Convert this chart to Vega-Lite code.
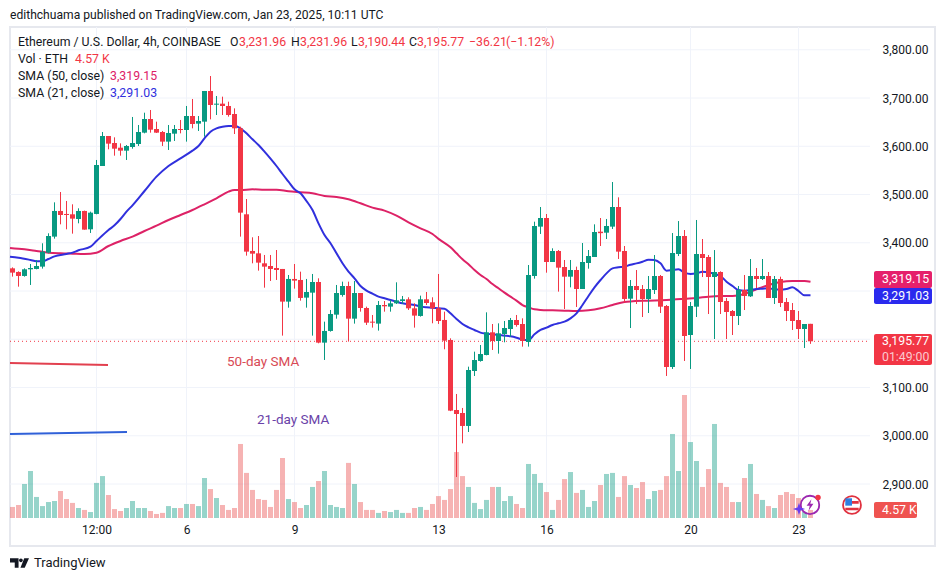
{
"$schema":"https://vega.github.io/schema/vega-lite/v6.json",
"autosize":{"type":"none"},
"width":925,"height":519,
"padding":{"left":10,"top":27,"right":10,"bottom":35},
"background":"#ffffff",
"config":{"view":{"stroke":"#e6e8ee","strokeWidth":2},"font":"Roboto"},
"datasets":{
"candles":[
{"t":"2025-01-01T04:00Z","o":3347.0,"h":3349.0,"l":3329.8,"c":3338.1,"v":6.3},
{"t":"2025-01-01T08:00Z","o":3339.5,"h":3340.8,"l":3309.0,"c":3331.2,"v":7.4},
{"t":"2025-01-01T12:00Z","o":3331.2,"h":3347.0,"l":3329.8,"c":3345.0,"v":19.4},
{"t":"2025-01-01T16:00Z","o":3345.0,"h":3356.0,"l":3312.5,"c":3347.7,"v":26.8},
{"t":"2025-01-01T20:00Z","o":3345.7,"h":3364.3,"l":3345.0,"c":3351.9,"v":12},
{"t":"2025-01-02T00:00Z","o":3350.5,"h":3398.9,"l":3346.4,"c":3381.6,"v":6.8},
{"t":"2025-01-02T04:00Z","o":3379.5,"h":3419.6,"l":3378.1,"c":3414.0,"v":9.1},
{"t":"2025-01-02T08:00Z","o":3412.7,"h":3483.8,"l":3408.5,"c":3465.9,"v":9.7},
{"t":"2025-01-02T12:00Z","o":3465.9,"h":3505.2,"l":3438.2,"c":3457.6,"v":15.4},
{"t":"2025-01-02T16:00Z","o":3459.7,"h":3486.6,"l":3427.9,"c":3457.6,"v":10.8},
{"t":"2025-01-02T20:00Z","o":3459.0,"h":3479.7,"l":3418.9,"c":3450.0,"v":8.6},
{"t":"2025-01-03T00:00Z","o":3449.3,"h":3471.4,"l":3440.3,"c":3465.9,"v":5.7},
{"t":"2025-01-03T04:00Z","o":3465.9,"h":3466.6,"l":3427.2,"c":3427.2,"v":4.6},
{"t":"2025-01-03T08:00Z","o":3427.9,"h":3464.5,"l":3420.3,"c":3462.4,"v":3.4},
{"t":"2025-01-03T12:00Z","o":3459.7,"h":3571.6,"l":3459.0,"c":3561.2,"v":20},
{"t":"2025-01-03T16:00Z","o":3559.1,"h":3629.6,"l":3559.1,"c":3621.3,"v":23.9},
{"t":"2025-01-03T20:00Z","o":3621.3,"h":3621.3,"l":3593.7,"c":3605.4,"v":13.1},
{"t":"2025-01-04T00:00Z","o":3606.8,"h":3618.5,"l":3580.5,"c":3595.0,"v":5.1},
{"t":"2025-01-04T04:00Z","o":3597.1,"h":3606.0,"l":3580.5,"c":3590.9,"v":4},
{"t":"2025-01-04T08:00Z","o":3590.9,"h":3602.6,"l":3571.6,"c":3600.6,"v":5.7},
{"t":"2025-01-04T12:00Z","o":3598.5,"h":3660.7,"l":3595.0,"c":3606.8,"v":9.7},
{"t":"2025-01-04T16:00Z","o":3604.7,"h":3644.1,"l":3600.6,"c":3629.6,"v":5.7},
{"t":"2025-01-04T20:00Z","o":3628.2,"h":3669.6,"l":3626.8,"c":3656.5,"v":5.7},
{"t":"2025-01-05T00:00Z","o":3656.5,"h":3675.2,"l":3628.2,"c":3634.4,"v":4},
{"t":"2025-01-05T04:00Z","o":3635.8,"h":3651.0,"l":3627.5,"c":3628.2,"v":2.3},
{"t":"2025-01-05T08:00Z","o":3629.6,"h":3631.7,"l":3600.6,"c":3609.6,"v":2.9},
{"t":"2025-01-05T12:00Z","o":3609.6,"h":3644.1,"l":3592.3,"c":3627.5,"v":6.8},
{"t":"2025-01-05T16:00Z","o":3626.1,"h":3644.1,"l":3611.0,"c":3635.8,"v":5.7},
{"t":"2025-01-05T20:00Z","o":3635.8,"h":3654.5,"l":3626.8,"c":3633.7,"v":5.7},
{"t":"2025-01-06T00:00Z","o":3633.7,"h":3683.5,"l":3609.6,"c":3662.7,"v":8},
{"t":"2025-01-06T04:00Z","o":3662.7,"h":3698.0,"l":3637.2,"c":3646.2,"v":8},
{"t":"2025-01-06T08:00Z","o":3646.9,"h":3662.7,"l":3631.7,"c":3652.4,"v":6.8},
{"t":"2025-01-06T12:00Z","o":3651.0,"h":3714.6,"l":3619.9,"c":3714.6,"v":22.8},
{"t":"2025-01-06T16:00Z","o":3714.6,"h":3745.6,"l":3655.8,"c":3685.5,"v":16.5},
{"t":"2025-01-06T20:00Z","o":3686.2,"h":3704.2,"l":3664.8,"c":3688.3,"v":11.4},
{"t":"2025-01-07T00:00Z","o":3688.3,"h":3702.8,"l":3664.8,"c":3683.5,"v":7.4},
{"t":"2025-01-07T04:00Z","o":3683.5,"h":3692.4,"l":3661.4,"c":3664.8,"v":4.6},
{"t":"2025-01-07T08:00Z","o":3666.9,"h":3678.6,"l":3625.4,"c":3637.2,"v":5.7},
{"t":"2025-01-07T12:00Z","o":3637.2,"h":3640.6,"l":3412.7,"c":3462.4,"v":42.2},
{"t":"2025-01-07T16:00Z","o":3459.0,"h":3490.7,"l":3373.3,"c":3381.6,"v":25.7},
{"t":"2025-01-07T20:00Z","o":3383.0,"h":3411.3,"l":3357.4,"c":3377.4,"v":16},
{"t":"2025-01-08T00:00Z","o":3378.1,"h":3414.0,"l":3342.2,"c":3358.8,"v":10.8},
{"t":"2025-01-08T04:00Z","o":3357.4,"h":3374.7,"l":3306.9,"c":3350.5,"v":10.3},
{"t":"2025-01-08T08:00Z","o":3351.9,"h":3374.7,"l":3320.8,"c":3345.7,"v":6.3},
{"t":"2025-01-08T12:00Z","o":3347.7,"h":3385.0,"l":3322.9,"c":3343.6,"v":16},
{"t":"2025-01-08T16:00Z","o":3345.7,"h":3345.7,"l":3207.5,"c":3278.0,"v":34.2},
{"t":"2025-01-08T20:00Z","o":3278.0,"h":3333.2,"l":3265.5,"c":3325.0,"v":10.8},
{"t":"2025-01-09T00:00Z","o":3325.0,"h":3356.0,"l":3304.9,"c":3321.5,"v":9.1},
{"t":"2025-01-09T04:00Z","o":3322.9,"h":3340.1,"l":3280.0,"c":3285.6,"v":5.7},
{"t":"2025-01-09T08:00Z","o":3286.3,"h":3325.0,"l":3265.5,"c":3298.0,"v":7.4},
{"t":"2025-01-09T12:00Z","o":3296.6,"h":3335.3,"l":3207.5,"c":3318.7,"v":17.7},
{"t":"2025-01-09T16:00Z","o":3318.7,"h":3326.3,"l":3191.6,"c":3193.0,"v":21.1},
{"t":"2025-01-09T20:00Z","o":3193.0,"h":3236.5,"l":3157.1,"c":3217.2,"v":26.8},
{"t":"2025-01-10T00:00Z","o":3217.2,"h":3260.7,"l":3215.8,"c":3252.4,"v":7.4},
{"t":"2025-01-10T04:00Z","o":3251.0,"h":3312.5,"l":3242.7,"c":3295.9,"v":6.3},
{"t":"2025-01-10T08:00Z","o":3291.8,"h":3319.4,"l":3288.3,"c":3310.4,"v":5.7},
{"t":"2025-01-10T12:00Z","o":3310.4,"h":3319.4,"l":3195.1,"c":3242.7,"v":31.4},
{"t":"2025-01-10T16:00Z","o":3242.7,"h":3320.8,"l":3232.4,"c":3295.9,"v":19.4},
{"t":"2025-01-10T20:00Z","o":3295.9,"h":3295.9,"l":3257.2,"c":3264.8,"v":9.1},
{"t":"2025-01-11T00:00Z","o":3264.8,"h":3267.6,"l":3229.6,"c":3234.4,"v":4.6},
{"t":"2025-01-11T04:00Z","o":3236.5,"h":3250.3,"l":3224.1,"c":3234.4,"v":4.6},
{"t":"2025-01-11T08:00Z","o":3232.4,"h":3279.3,"l":3217.9,"c":3271.0,"v":2.9},
{"t":"2025-01-11T12:00Z","o":3271.0,"h":3279.3,"l":3257.2,"c":3268.3,"v":4},
{"t":"2025-01-11T16:00Z","o":3267.6,"h":3281.4,"l":3257.2,"c":3274.5,"v":3.4},
{"t":"2025-01-11T20:00Z","o":3274.5,"h":3318.0,"l":3273.1,"c":3280.7,"v":4.6},
{"t":"2025-01-12T00:00Z","o":3279.3,"h":3289.7,"l":3273.1,"c":3282.8,"v":2.9},
{"t":"2025-01-12T04:00Z","o":3282.8,"h":3287.0,"l":3260.7,"c":3264.1,"v":2.9},
{"t":"2025-01-12T08:00Z","o":3264.1,"h":3274.5,"l":3224.1,"c":3249.0,"v":5.7},
{"t":"2025-01-12T12:00Z","o":3248.3,"h":3290.4,"l":3246.9,"c":3282.8,"v":6.3},
{"t":"2025-01-12T16:00Z","o":3282.8,"h":3298.0,"l":3271.0,"c":3275.2,"v":4.6},
{"t":"2025-01-12T20:00Z","o":3276.6,"h":3287.0,"l":3233.1,"c":3264.1,"v":8},
{"t":"2025-01-13T00:00Z","o":3264.1,"h":3335.3,"l":3231.7,"c":3237.9,"v":12.5},
{"t":"2025-01-13T04:00Z","o":3240.0,"h":3257.2,"l":3179.2,"c":3197.1,"v":10.3},
{"t":"2025-01-13T08:00Z","o":3198.5,"h":3201.9,"l":3051.0,"c":3052.0,"v":16.5},
{"t":"2025-01-13T12:00Z","o":3053.4,"h":3086.6,"l":2914.5,"c":3045.1,"v":37.6},
{"t":"2025-01-13T16:00Z","o":3047.2,"h":3057.6,"l":2984.3,"c":3020.3,"v":23.9},
{"t":"2025-01-13T20:00Z","o":3020.3,"h":3143.2,"l":3007.8,"c":3136.3,"v":17.7},
{"t":"2025-01-14T00:00Z","o":3134.2,"h":3174.3,"l":3123.9,"c":3157.0,"v":8.6},
{"t":"2025-01-14T04:00Z","o":3155.0,"h":3188.1,"l":3153.6,"c":3169.5,"v":5.1},
{"t":"2025-01-14T08:00Z","o":3167.4,"h":3255.8,"l":3166.7,"c":3214.4,"v":10.3},
{"t":"2025-01-14T12:00Z","o":3214.4,"h":3231.6,"l":3177.8,"c":3196.4,"v":17.7},
{"t":"2025-01-14T16:00Z","o":3196.4,"h":3233.0,"l":3170.2,"c":3212.3,"v":17.7},
{"t":"2025-01-14T20:00Z","o":3210.9,"h":3237.9,"l":3193.7,"c":3223.4,"v":9.7},
{"t":"2025-01-15T00:00Z","o":3221.3,"h":3244.1,"l":3205.4,"c":3239.9,"v":12.5},
{"t":"2025-01-15T04:00Z","o":3239.9,"h":3250.3,"l":3226.1,"c":3229.6,"v":8},
{"t":"2025-01-15T08:00Z","o":3231.6,"h":3243.4,"l":3184.7,"c":3196.4,"v":5.7},
{"t":"2025-01-15T12:00Z","o":3194.3,"h":3353.9,"l":3184.7,"c":3333.2,"v":30.8},
{"t":"2025-01-15T16:00Z","o":3331.1,"h":3443.7,"l":3325.6,"c":3434.7,"v":25.1},
{"t":"2025-01-15T20:00Z","o":3433.4,"h":3474.1,"l":3418.2,"c":3451.3,"v":20},
{"t":"2025-01-16T00:00Z","o":3451.3,"h":3459.6,"l":3338.0,"c":3360.1,"v":14.8},
{"t":"2025-01-16T04:00Z","o":3360.1,"h":3388.5,"l":3360.1,"c":3382.9,"v":4.6},
{"t":"2025-01-16T08:00Z","o":3382.9,"h":3385.0,"l":3298.7,"c":3348.4,"v":10.3},
{"t":"2025-01-16T12:00Z","o":3349.8,"h":3364.3,"l":3262.7,"c":3329.7,"v":22.2},
{"t":"2025-01-16T16:00Z","o":3329.7,"h":3364.3,"l":3307.6,"c":3343.6,"v":26.2},
{"t":"2025-01-16T20:00Z","o":3343.6,"h":3350.5,"l":3266.9,"c":3304.2,"v":14.3},
{"t":"2025-01-17T00:00Z","o":3304.2,"h":3399.5,"l":3304.2,"c":3360.1,"v":16},
{"t":"2025-01-17T04:00Z","o":3358.0,"h":3385.0,"l":3346.3,"c":3372.6,"v":6.3},
{"t":"2025-01-17T08:00Z","o":3370.5,"h":3438.2,"l":3370.5,"c":3422.3,"v":9.7},
{"t":"2025-01-17T12:00Z","o":3423.0,"h":3451.3,"l":3393.3,"c":3419.9,"v":18.8},
{"t":"2025-01-17T16:00Z","o":3420.9,"h":3449.3,"l":3407.8,"c":3434.7,"v":25.1},
{"t":"2025-01-17T20:00Z","o":3433.4,"h":3525.9,"l":3428.5,"c":3474.1,"v":25.7},
{"t":"2025-01-18T00:00Z","o":3474.1,"h":3494.2,"l":3366.4,"c":3381.6,"v":12},
{"t":"2025-01-18T04:00Z","o":3382.9,"h":3393.3,"l":3276.6,"c":3283.5,"v":23.9},
{"t":"2025-01-18T08:00Z","o":3284.1,"h":3322.8,"l":3223.3,"c":3310.4,"v":18.8},
{"t":"2025-01-18T12:00Z","o":3310.4,"h":3343.5,"l":3273.1,"c":3302.1,"v":17.1},
{"t":"2025-01-18T16:00Z","o":3304.2,"h":3312.4,"l":3246.1,"c":3283.4,"v":20.5},
{"t":"2025-01-18T20:00Z","o":3283.4,"h":3331.1,"l":3254.4,"c":3304.2,"v":10.8},
{"t":"2025-01-19T00:00Z","o":3302.1,"h":3374.6,"l":3293.8,"c":3331.1,"v":15.4},
{"t":"2025-01-19T04:00Z","o":3331.1,"h":3333.2,"l":3254.4,"c":3267.5,"v":16},
{"t":"2025-01-19T08:00Z","o":3268.9,"h":3271.0,"l":3123.9,"c":3142.5,"v":23.9},
{"t":"2025-01-19T12:00Z","o":3142.5,"h":3420.2,"l":3138.4,"c":3378.8,"v":47.9},
{"t":"2025-01-19T16:00Z","o":3376.7,"h":3445.0,"l":3372.5,"c":3414.0,"v":26.8},
{"t":"2025-01-19T20:00Z","o":3414.0,"h":3426.4,"l":3155.0,"c":3206.8,"v":70.1},
{"t":"2025-01-20T00:00Z","o":3208.8,"h":3277.2,"l":3138.4,"c":3268.9,"v":43.3},
{"t":"2025-01-20T04:00Z","o":3267.5,"h":3447.2,"l":3246.1,"c":3376.7,"v":32.5},
{"t":"2025-01-20T08:00Z","o":3376.7,"h":3407.8,"l":3329.0,"c":3368.4,"v":17.7},
{"t":"2025-01-20T12:00Z","o":3370.5,"h":3374.6,"l":3252.3,"c":3329.0,"v":27.9},
{"t":"2025-01-20T16:00Z","o":3329.0,"h":3384.9,"l":3200.5,"c":3339.4,"v":53.6},
{"t":"2025-01-20T20:00Z","o":3339.4,"h":3340.8,"l":3252.3,"c":3277.2,"v":20},
{"t":"2025-01-21T00:00Z","o":3279.3,"h":3285.5,"l":3200.5,"c":3256.5,"v":17.7},
{"t":"2025-01-21T04:00Z","o":3258.6,"h":3260.6,"l":3208.8,"c":3248.2,"v":9.1},
{"t":"2025-01-21T08:00Z","o":3248.2,"h":3310.4,"l":3229.5,"c":3302.1,"v":9.1},
{"t":"2025-01-21T12:00Z","o":3302.1,"h":3333.2,"l":3260.6,"c":3289.6,"v":22.8},
{"t":"2025-01-21T16:00Z","o":3289.0,"h":3366.3,"l":3287.6,"c":3331.1,"v":30.8},
{"t":"2025-01-21T20:00Z","o":3331.1,"h":3347.7,"l":3306.2,"c":3324.9,"v":13.7},
{"t":"2025-01-22T00:00Z","o":3324.9,"h":3366.3,"l":3322.8,"c":3331.1,"v":10.3},
{"t":"2025-01-22T04:00Z","o":3331.1,"h":3339.4,"l":3285.5,"c":3285.5,"v":6.8},
{"t":"2025-01-22T08:00Z","o":3285.5,"h":3331.1,"l":3273.1,"c":3324.9,"v":5.7},
{"t":"2025-01-22T12:00Z","o":3324.9,"h":3329.7,"l":3266.8,"c":3275.1,"v":13.1},
{"t":"2025-01-22T16:00Z","o":3277.2,"h":3285.5,"l":3237.8,"c":3258.6,"v":14.8},
{"t":"2025-01-22T20:00Z","o":3260.6,"h":3275.1,"l":3219.2,"c":3237.8,"v":13.7},
{"t":"2025-01-23T00:00Z","o":3239.9,"h":3258.6,"l":3200.5,"c":3221.3,"v":11.4},
{"t":"2025-01-23T04:00Z","o":3221.3,"h":3231.6,"l":3181.9,"c":3231.6,"v":3.4},
{"t":"2025-01-23T08:00Z","o":3231.96,"h":3231.96,"l":3190.44,"c":3195.77,"v":4.57}
],
"sma21":[
{"t":"2025-01-01T02:20Z","v":3371.2},{"t":"2025-01-01T08:00Z","v":3369.1},{"t":"2025-01-01T16:00Z","v":3364.3},{"t":"2025-01-01T20:00Z","v":3361.6},{"t":"2025-01-02T00:00Z","v":3361.6},{"t":"2025-01-02T04:00Z","v":3366.4},{"t":"2025-01-02T08:00Z","v":3371.9},{"t":"2025-01-02T16:00Z","v":3376.8},{"t":"2025-01-02T20:00Z","v":3379.5},{"t":"2025-01-03T00:00Z","v":3384.4},{"t":"2025-01-03T08:00Z","v":3391.9},{"t":"2025-01-03T12:00Z","v":3403.7},{"t":"2025-01-03T20:00Z","v":3426.5},{"t":"2025-01-04T00:00Z","v":3436.2},{"t":"2025-01-04T04:00Z","v":3449.3},{"t":"2025-01-04T08:00Z","v":3464.5},{"t":"2025-01-04T12:00Z","v":3477.6},{"t":"2025-01-04T20:00Z","v":3507.3},{"t":"2025-01-05T04:00Z","v":3537},{"t":"2025-01-05T12:00Z","v":3559.1},{"t":"2025-01-05T20:00Z","v":3575},{"t":"2025-01-06T04:00Z","v":3590.9},{"t":"2025-01-06T08:00Z","v":3600.6},{"t":"2025-01-06T12:00Z","v":3616.5},{"t":"2025-01-06T16:00Z","v":3630.3},{"t":"2025-01-06T20:00Z","v":3637.2},{"t":"2025-01-07T00:00Z","v":3640.6},{"t":"2025-01-07T04:00Z","v":3642},{"t":"2025-01-07T08:00Z","v":3642},{"t":"2025-01-07T12:00Z","v":3637.2},{"t":"2025-01-07T16:00Z","v":3626.8},{"t":"2025-01-07T20:00Z","v":3614.4},{"t":"2025-01-08T00:00Z","v":3602.6},{"t":"2025-01-08T04:00Z","v":3588.8},{"t":"2025-01-08T08:00Z","v":3574.3},{"t":"2025-01-08T12:00Z","v":3559.1},{"t":"2025-01-08T16:00Z","v":3542.5},{"t":"2025-01-08T20:00Z","v":3526.7},{"t":"2025-01-09T00:00Z","v":3510.8},{"t":"2025-01-09T04:00Z","v":3502.5},{"t":"2025-01-09T08:00Z","v":3486.6},{"t":"2025-01-09T12:00Z","v":3467.9},{"t":"2025-01-09T16:00Z","v":3440.3},{"t":"2025-01-09T20:00Z","v":3416.1},{"t":"2025-01-10T00:00Z","v":3398.9},{"t":"2025-01-10T04:00Z","v":3378.1},{"t":"2025-01-10T08:00Z","v":3357.4},{"t":"2025-01-10T12:00Z","v":3340.1},{"t":"2025-01-10T16:00Z","v":3326.3},{"t":"2025-01-10T20:00Z","v":3310.4},{"t":"2025-01-11T00:00Z","v":3300.8},{"t":"2025-01-11T04:00Z","v":3294.5},{"t":"2025-01-11T08:00Z","v":3288.3},{"t":"2025-01-11T12:00Z","v":3284.9},{"t":"2025-01-11T16:00Z","v":3281.4},{"t":"2025-01-11T20:00Z","v":3277.9},{"t":"2025-01-12T00:00Z","v":3274.5},{"t":"2025-01-12T04:00Z","v":3272.4},{"t":"2025-01-12T08:00Z","v":3271},{"t":"2025-01-12T12:00Z","v":3267.6},{"t":"2025-01-12T16:00Z","v":3266.2},{"t":"2025-01-12T20:00Z","v":3265.5},{"t":"2025-01-13T00:00Z","v":3264.1},{"t":"2025-01-13T04:00Z","v":3263.4},{"t":"2025-01-13T08:00Z","v":3253.8},{"t":"2025-01-13T12:00Z","v":3242},{"t":"2025-01-13T16:00Z","v":3231.6},{"t":"2025-01-13T20:00Z","v":3224.7},{"t":"2025-01-14T00:00Z","v":3219.2},{"t":"2025-01-14T04:00Z","v":3213.7},{"t":"2025-01-14T08:00Z","v":3211.6},{"t":"2025-01-14T12:00Z","v":3210.2},{"t":"2025-01-14T16:00Z","v":3208.8},{"t":"2025-01-14T20:00Z","v":3207.5},{"t":"2025-01-15T00:00Z","v":3206.1},{"t":"2025-01-15T04:00Z","v":3203.3},{"t":"2025-01-15T08:00Z","v":3199.2},{"t":"2025-01-15T12:00Z","v":3198.5},{"t":"2025-01-15T16:00Z","v":3210.2},{"t":"2025-01-15T20:00Z","v":3219.2},{"t":"2025-01-16T00:00Z","v":3224},{"t":"2025-01-16T04:00Z","v":3229.6},{"t":"2025-01-16T08:00Z","v":3233},{"t":"2025-01-16T12:00Z","v":3236.5},{"t":"2025-01-16T16:00Z","v":3243.4},{"t":"2025-01-16T20:00Z","v":3253.8},{"t":"2025-01-17T00:00Z","v":3271},{"t":"2025-01-17T04:00Z","v":3289.7},{"t":"2025-01-17T08:00Z","v":3307.6},{"t":"2025-01-17T12:00Z","v":3322.8},{"t":"2025-01-17T16:00Z","v":3336.6},{"t":"2025-01-17T20:00Z","v":3347},{"t":"2025-01-18T00:00Z","v":3349.1},{"t":"2025-01-18T04:00Z","v":3350.5},{"t":"2025-01-18T08:00Z","v":3354.6},{"t":"2025-01-18T12:00Z","v":3357.3},{"t":"2025-01-18T16:00Z","v":3360.8},{"t":"2025-01-18T20:00Z","v":3365},{"t":"2025-01-19T00:00Z","v":3364.3},{"t":"2025-01-19T04:00Z","v":3357.3},{"t":"2025-01-19T08:00Z","v":3342.2},{"t":"2025-01-19T12:00Z","v":3343.5},{"t":"2025-01-19T16:00Z","v":3344.9},{"t":"2025-01-19T20:00Z","v":3338},{"t":"2025-01-20T00:00Z","v":3335.2},{"t":"2025-01-20T04:00Z","v":3336.6},{"t":"2025-01-20T08:00Z","v":3340},{"t":"2025-01-20T12:00Z","v":3338.7},{"t":"2025-01-20T16:00Z","v":3335.2},{"t":"2025-01-20T20:00Z","v":3331.1},{"t":"2025-01-21T00:00Z","v":3319.4},{"t":"2025-01-21T04:00Z","v":3310.4},{"t":"2025-01-21T08:00Z","v":3302.1},{"t":"2025-01-21T12:00Z","v":3300.7},{"t":"2025-01-21T16:00Z","v":3302.1},{"t":"2025-01-21T20:00Z","v":3304.2},{"t":"2025-01-22T00:00Z","v":3304.8},{"t":"2025-01-22T04:00Z","v":3305.5},{"t":"2025-01-22T08:00Z","v":3303.5},{"t":"2025-01-22T12:00Z","v":3302.8},{"t":"2025-01-22T16:00Z","v":3304.2},{"t":"2025-01-22T20:00Z","v":3307.6},{"t":"2025-01-23T00:00Z","v":3300},{"t":"2025-01-23T04:00Z","v":3291},{"t":"2025-01-23T08:00Z","v":3291.03}
],
"sma50":[
{"t":"2025-01-01T02:20Z","v":3389.2},{"t":"2025-01-01T12:00Z","v":3386.4},{"t":"2025-01-01T20:00Z","v":3383},{"t":"2025-01-02T04:00Z","v":3379.5},{"t":"2025-01-02T12:00Z","v":3378.1},{"t":"2025-01-02T20:00Z","v":3377.4},{"t":"2025-01-03T04:00Z","v":3376.8},{"t":"2025-01-03T12:00Z","v":3379.5},{"t":"2025-01-03T20:00Z","v":3393.3},{"t":"2025-01-04T04:00Z","v":3403.7},{"t":"2025-01-04T12:00Z","v":3412.7},{"t":"2025-01-04T20:00Z","v":3424.4},{"t":"2025-01-05T04:00Z","v":3435.5},{"t":"2025-01-05T12:00Z","v":3447.2},{"t":"2025-01-05T20:00Z","v":3457.6},{"t":"2025-01-06T04:00Z","v":3467.9},{"t":"2025-01-06T12:00Z","v":3479.7},{"t":"2025-01-06T20:00Z","v":3492.1},{"t":"2025-01-07T04:00Z","v":3505.9},{"t":"2025-01-07T08:00Z","v":3509.4},{"t":"2025-01-07T12:00Z","v":3509.4},{"t":"2025-01-07T20:00Z","v":3510.8},{"t":"2025-01-08T04:00Z","v":3510.1},{"t":"2025-01-08T12:00Z","v":3510.1},{"t":"2025-01-08T20:00Z","v":3506.6},{"t":"2025-01-09T04:00Z","v":3504.5},{"t":"2025-01-09T12:00Z","v":3502.5},{"t":"2025-01-09T20:00Z","v":3497},{"t":"2025-01-10T04:00Z","v":3494.9},{"t":"2025-01-10T12:00Z","v":3490},{"t":"2025-01-10T20:00Z","v":3481.8},{"t":"2025-01-11T04:00Z","v":3472.8},{"t":"2025-01-11T12:00Z","v":3466.6},{"t":"2025-01-11T20:00Z","v":3456.2},{"t":"2025-01-12T04:00Z","v":3442.4},{"t":"2025-01-12T12:00Z","v":3429.9},{"t":"2025-01-12T20:00Z","v":3418.2},{"t":"2025-01-13T00:00Z","v":3408},{"t":"2025-01-13T08:00Z","v":3390.5},{"t":"2025-01-13T12:00Z","v":3378.1},{"t":"2025-01-13T16:00Z","v":3365.7},{"t":"2025-01-13T20:00Z","v":3355.3},{"t":"2025-01-14T00:00Z","v":3343.6},{"t":"2025-01-14T04:00Z","v":3333.2},{"t":"2025-01-14T08:00Z","v":3324.9},{"t":"2025-01-14T12:00Z","v":3314.5},{"t":"2025-01-14T16:00Z","v":3305.6},{"t":"2025-01-14T20:00Z","v":3296.6},{"t":"2025-01-15T00:00Z","v":3288.3},{"t":"2025-01-15T04:00Z","v":3280},{"t":"2025-01-15T08:00Z","v":3271},{"t":"2025-01-15T12:00Z","v":3266.2},{"t":"2025-01-15T16:00Z","v":3262},{"t":"2025-01-15T20:00Z","v":3260.7},{"t":"2025-01-16T04:00Z","v":3260},{"t":"2025-01-16T12:00Z","v":3259.3},{"t":"2025-01-16T20:00Z","v":3258.6},{"t":"2025-01-17T04:00Z","v":3260},{"t":"2025-01-17T12:00Z","v":3264.1},{"t":"2025-01-17T20:00Z","v":3271},{"t":"2025-01-18T04:00Z","v":3277.2},{"t":"2025-01-18T08:00Z","v":3278.5},{"t":"2025-01-18T20:00Z","v":3280},{"t":"2025-01-19T08:00Z","v":3281.4},{"t":"2025-01-19T20:00Z","v":3284.1},{"t":"2025-01-20T04:00Z","v":3285.5},{"t":"2025-01-20T12:00Z","v":3288.3},{"t":"2025-01-20T20:00Z","v":3289.6},{"t":"2025-01-21T04:00Z","v":3289.6},{"t":"2025-01-21T12:00Z","v":3293.8},{"t":"2025-01-21T20:00Z","v":3303.5},{"t":"2025-01-22T04:00Z","v":3312.4},{"t":"2025-01-22T12:00Z","v":3318.7},{"t":"2025-01-22T20:00Z","v":3320.7},{"t":"2025-01-23T04:00Z","v":3320.7},{"t":"2025-01-23T08:00Z","v":3319.15}
],
"hgrid":[
{"t":"2025-01-01T02:20Z","t2":"2025-01-24T23:40Z","p":2900},{"t":"2025-01-01T02:20Z","t2":"2025-01-24T23:40Z","p":3000},{"t":"2025-01-01T02:20Z","t2":"2025-01-24T23:40Z","p":3100},{"t":"2025-01-01T02:20Z","t2":"2025-01-24T23:40Z","p":3200},{"t":"2025-01-01T02:20Z","t2":"2025-01-24T23:40Z","p":3300},{"t":"2025-01-01T02:20Z","t2":"2025-01-24T23:40Z","p":3400},{"t":"2025-01-01T02:20Z","t2":"2025-01-24T23:40Z","p":3500},{"t":"2025-01-01T02:20Z","t2":"2025-01-24T23:40Z","p":3600},{"t":"2025-01-01T02:20Z","t2":"2025-01-24T23:40Z","p":3700},{"t":"2025-01-01T02:20Z","t2":"2025-01-24T23:40Z","p":3800}
],
"vgrid":[
{"t":"2025-01-03T12:00Z","p":3847.2,"p2":2829.5},{"t":"2025-01-06T00:00Z","p":3847.2,"p2":2829.5},{"t":"2025-01-09T00:00Z","p":3847.2,"p2":2829.5},{"t":"2025-01-13T00:00Z","p":3847.2,"p2":2829.5},{"t":"2025-01-16T00:00Z","p":3847.2,"p2":2829.5},{"t":"2025-01-20T00:00Z","p":3847.2,"p2":2829.5},{"t":"2025-01-23T00:00Z","p":3847.2,"p2":2829.5}
],
"tags":[
{"t":"2025-01-25T02:20Z","t2":"2025-01-26T17:00Z","p":3341.5,"p2":3306.2,"k":"ma50"},
{"t":"2025-01-25T02:20Z","t2":"2025-01-26T17:00Z","p":3306.2,"p2":3273.0,"k":"ma21"},
{"t":"2025-01-25T02:20Z","t2":"2025-01-26T17:00Z","p":3210.9,"p2":3146.6,"k":"last"},
{"t":"2025-01-25T02:20Z","t2":"2025-01-26T07:00Z","p":2862.7,"p2":2829.5,"k":"vol"}
],
"texts":[
{"t":"2025-01-01T07:40Z","p":3816.1,"k":"ink","s":"Ethereum / U.S. Dollar, 4h, COINBASE"},
{"t":"2025-01-07T05:00Z","p":3816.1,"k":"ink","s":"O"},
{"t":"2025-01-07T11:00Z","p":3816.1,"k":"down","s":"3,231.96"},
{"t":"2025-01-08T21:40Z","p":3816.1,"k":"ink","s":"H"},
{"t":"2025-01-09T03:40Z","p":3816.1,"k":"down","s":"3,231.96"},
{"t":"2025-01-10T13:40Z","p":3816.1,"k":"ink","s":"L"},
{"t":"2025-01-10T18:20Z","p":3816.1,"k":"down","s":"3,190.44"},
{"t":"2025-01-12T04:20Z","p":3816.1,"k":"ink","s":"C"},
{"t":"2025-01-12T09:40Z","p":3816.1,"k":"down","s":"3,195.77"},
{"t":"2025-01-13T20:20Z","p":3816.1,"k":"down","s":"−36.21"},
{"t":"2025-01-14T21:00Z","p":3816.1,"k":"down","s":"(−1.12%)"},
{"t":"2025-01-01T07:40Z","p":3780.8,"k":"ink","s":"Vol · ETH"},
{"t":"2025-01-02T21:40Z","p":3780.8,"k":"down","s":"4.57 K"},
{"t":"2025-01-01T07:40Z","p":3745.6,"k":"ink","s":"SMA (50, close)"},
{"t":"2025-01-03T21:00Z","p":3745.6,"k":"ma50","s":"3,319.15"},
{"t":"2025-01-01T07:40Z","p":3710.4,"k":"ink","s":"SMA (21, close)"},
{"t":"2025-01-03T21:00Z","p":3710.4,"k":"ma21","s":"3,291.03"},
{"t":"2025-01-25T07:40Z","p":3323.9,"k":"white","s":"3,319.15"},
{"t":"2025-01-25T07:40Z","p":3289.6,"k":"white","s":"3,291.03"},
{"t":"2025-01-25T07:40Z","p":3196.4,"k":"white","s":"3,195.77"},
{"t":"2025-01-25T07:40Z","p":3163.2,"k":"soft","s":"01:49:00"},
{"t":"2025-01-25T07:40Z","p":2846.1,"k":"white","s":"4.57 K"}
],
"topline":[{"t":"2025-01-01T02:20Z","p":3872,"s":"edithchuama published on TradingView.com, Jan 23, 2025, 10:11 UTC"}],
"notes":[
{"t":"2025-01-07T03:00Z","p":3152.8,"k":"note50","s":"50-day SMA"},
{"t":"2025-01-07T23:00Z","p":3032.6,"k":"note21","s":"21-day SMA"}
],
"brand":[{"t":"2025-01-01T18:20Z","p":2736.3,"s":"TradingView"}],
"noteLines":[
{"t":"2025-01-01T02:20Z","p":3150.8,"k":"a"},{"t":"2025-01-03T19:40Z","p":3146.6,"k":"a"},
{"t":"2025-01-01T02:20Z","p":3003.6,"k":"b"},{"t":"2025-01-04T08:20Z","p":3007.8,"k":"b"}
],
"lastLine":[{"t":"2025-01-01T02:20Z","t2":"2025-01-24T23:40Z","p":3195.77}],
"rings":[
{"t":"2025-01-23T07:40Z","p":2856.5,"k":"bolt"},
{"t":"2025-01-24T11:40Z","p":2856.5,"k":"flag"}
],
"glyphs":[
{"t":"2025-01-23T07:40Z","p":2856.5,"k":"bolt"},
{"t":"2025-01-23T00:20Z","p":2848.2,"k":"star"},
{"t":"2025-01-23T13:00Z","p":2872,"k":"dot"},
{"t":"2025-01-24T11:40Z","p":2856.5,"k":"flagBlue"},
{"t":"2025-01-24T11:40Z","p":2856.5,"k":"flagRed"},
{"t":"2025-01-01T08:40Z","p":2736.3,"k":"logo"}
]
},
"encoding":{"x":{"field":"t","type":"temporal","title":null,"scale":{"type":"utc","domain":[1735698000000,1737918000000],"padding":0,"nice":false},
"axis":{"orient":"bottom","values":[1735905600000,1736121600000,1736380800000,1736726400000,1736985600000,1737331200000,1737590400000],"labelExpr":"utchours(datum.value)==12?'12:00':''+utcdate(datum.value)","domain":false,"ticks":false,"grid":false,"labelPadding":-22,"labelFontSize":12,"labelColor":"#131722","labelFont":"Roboto","labelFlush":false,"labelOverlap":false}}},
"layer":[
{"data":{"name":"hgrid"},"mark":{"type":"rule","color":"#f0f3fa","strokeWidth":1},
"encoding":{"y":{"field":"p","type":"quantitative","title":null,"scale":{"domain":[2771.5,3847.2],"nice":false,"zero":false},
"axis":{"orient":"right","values":[2900,3000,3100,3400,3500,3600,3700,3800],"format":",.2f","domain":false,"ticks":false,"grid":false,"labelPadding":-53,"labelFontSize":12,"labelColor":"#131722","labelFont":"Roboto"}},"x2":{"field":"t2"}}},
{"data":{"name":"vgrid"},"mark":{"type":"rule","color":"#f0f3fa","strokeWidth":1},
"encoding":{"y":{"field":"p","type":"quantitative","axis":null,"scale":{"domain":[2771.5,3847.2],"nice":false,"zero":false}},"y2":{"field":"p2"}}},
{"data":{"name":"candles"},"mark":{"type":"bar","size":5,"opacity":0.42},
"encoding":{"y":{"field":"v","type":"quantitative","axis":null,"scale":{"domain":[-15.96,279.87],"nice":false,"zero":false}},"y2":{"datum":0},
"color":{"condition":{"test":"datum.c>=datum.o","value":"#089981"},"value":"#ea4a4a"}}},
{"data":{"name":"noteLines"},"mark":{"type":"line","strokeWidth":2,"clip":false},
"encoding":{"y":{"field":"p","type":"quantitative","axis":null,"scale":{"domain":[2771.5,3847.2],"nice":false,"zero":false}},
"color":{"field":"k","type":"nominal","legend":null,"scale":{"domain":["a","b"],"range":["#e2404f","#2f60d8"]}}}},
{"data":{"name":"lastLine"},"mark":{"type":"rule","color":"#F23645","strokeWidth":1,"strokeDash":[1,3]},
"encoding":{"y":{"field":"p","type":"quantitative","axis":null,"scale":{"domain":[2771.5,3847.2],"nice":false,"zero":false}},"x2":{"field":"t2"}}},
{"data":{"name":"sma50"},"mark":{"type":"line","color":"#dd2266","strokeWidth":2,"interpolate":"monotone"},
"encoding":{"y":{"field":"v","type":"quantitative","axis":null,"scale":{"domain":[2771.5,3847.2],"nice":false,"zero":false}}}},
{"data":{"name":"sma21"},"mark":{"type":"line","color":"#3030dd","strokeWidth":2,"interpolate":"monotone"},
"encoding":{"y":{"field":"v","type":"quantitative","axis":null,"scale":{"domain":[2771.5,3847.2],"nice":false,"zero":false}}}},
{"data":{"name":"candles"},"mark":{"type":"rule","strokeWidth":1},
"encoding":{"y":{"field":"l","type":"quantitative","axis":null,"scale":{"domain":[2771.5,3847.2],"nice":false,"zero":false}},"y2":{"field":"h"},
"color":{"condition":{"test":"datum.c>=datum.o","value":"#089981"},"value":"#F23645"}}},
{"data":{"name":"candles"},"mark":{"type":"bar","size":5},
"encoding":{"y":{"field":"o","type":"quantitative","axis":null,"scale":{"domain":[2771.5,3847.2],"nice":false,"zero":false}},"y2":{"field":"c"},
"color":{"condition":{"test":"datum.c>=datum.o","value":"#089981"},"value":"#F23645"}}},
{"data":{"name":"tags"},"mark":{"type":"bar","cornerRadius":2},
"encoding":{"x2":{"field":"t2"},"y":{"field":"p","type":"quantitative","axis":null,"scale":{"domain":[2771.5,3847.2],"nice":false,"zero":false}},"y2":{"field":"p2"},
"color":{"field":"k","type":"nominal","legend":null,"scale":{"domain":["ma50","ma21","last","vol"],"range":["#e5206b","#2a2aee","#F23645","#ef5350"]}}}},
{"data":{"name":"rings"},"mark":{"type":"point","filled":false,"strokeWidth":1.8,"opacity":1},
"encoding":{"y":{"field":"p","type":"quantitative","axis":null,"scale":{"domain":[2771.5,3847.2],"nice":false,"zero":false}},
"color":{"field":"k","type":"nominal","legend":null,"scale":{"domain":["bolt","flag"],"range":["#9c27b0","#e0313f"]}},
"size":{"field":"k","type":"nominal","legend":null,"scale":{"type":"ordinal","domain":["bolt","flag"],"range":[340,320]}}}},
{"data":{"name":"glyphs"},"mark":{"type":"point","filled":true,"opacity":1,"strokeWidth":0},
"encoding":{"y":{"field":"p","type":"quantitative","axis":null,"scale":{"domain":[2771.5,3847.2],"nice":false,"zero":false}},
"color":{"field":"k","type":"nominal","legend":null,"scale":{"domain":["bolt","star","dot","flagBlue","flagRed","logo"],"range":["#9c27b0","#6a3cf0","#F23645","#2f7fe0","#e0313f","#131722"]}},
"shape":{"field":"k","type":"nominal","legend":null,"scale":{"domain":["bolt","star","dot","flagBlue","flagRed","logo"],"range":["M0.25,-1 L-0.6,0.15 L-0.05,0.15 L-0.25,1 L0.6,-0.2 L0.05,-0.2 Z","M0,-1 L0.25,-0.25 L1,0 L0.25,0.25 L0,1 L-0.25,0.25 L-1,0 L-0.25,-0.25 Z","circle","M-1,-1 H0 V0.1 H-1 Z","M0,-0.6 H1 V-0.2 H0 Z M-1,0.4 H1 V0.8 H-1 Z","M-1,-0.5 H-0.1 V0.5 H-0.5 V-0.05 H-1 Z M0.35,-0.28 A0.2,0.2 0 1 1 -0.05,-0.28 A0.2,0.2 0 1 1 0.35,-0.28 Z M1,-0.5 L0.55,0.5 H0.1 L0.5,-0.5 Z"]}},
"size":{"field":"k","type":"nominal","legend":null,"scale":{"type":"ordinal","domain":["bolt","star","dot","flagBlue","flagRed","logo"],"range":[130,150,30,180,180,361]}}}},
{"data":{"name":"texts"},"mark":{"type":"text","align":"left","baseline":"middle","fontSize":12.3,"font":"Roboto"},
"encoding":{"y":{"field":"p","type":"quantitative","axis":null,"scale":{"domain":[2771.5,3847.2],"nice":false,"zero":false}},"text":{"field":"s"},
"color":{"field":"k","type":"nominal","legend":null,"scale":{"domain":["ink","down","ma50","ma21","white","soft"],"range":["#131722","#F23645","#dd2266","#3030dd","#ffffff","#fbc9cf"]}}}},
{"data":{"name":"topline"},"mark":{"type":"text","align":"left","baseline":"middle","fontSize":12.1,"font":"Roboto","color":"#131722"},
"encoding":{"y":{"field":"p","type":"quantitative","axis":null,"scale":{"domain":[2771.5,3847.2],"nice":false,"zero":false}},"text":{"field":"s"}}},
{"data":{"name":"notes"},"mark":{"type":"text","align":"left","baseline":"middle","fontSize":13.5,"font":"Roboto"},
"encoding":{"y":{"field":"p","type":"quantitative","axis":null,"scale":{"domain":[2771.5,3847.2],"nice":false,"zero":false}},"text":{"field":"s"},
"color":{"field":"k","type":"nominal","legend":null,"scale":{"domain":["note50","note21"],"range":["#d84a55","#6a42a8"]}}}},
{"data":{"name":"brand"},"mark":{"type":"text","align":"left","baseline":"middle","fontSize":13,"font":"Roboto","color":"#131722"},
"encoding":{"y":{"field":"p","type":"quantitative","axis":null,"scale":{"domain":[2771.5,3847.2],"nice":false,"zero":false}},"text":{"field":"s"}}}
],
"resolve":{"scale":{"y":"independent","color":"independent","shape":"independent","size":"independent"},"axis":{"y":"independent"}}
}
